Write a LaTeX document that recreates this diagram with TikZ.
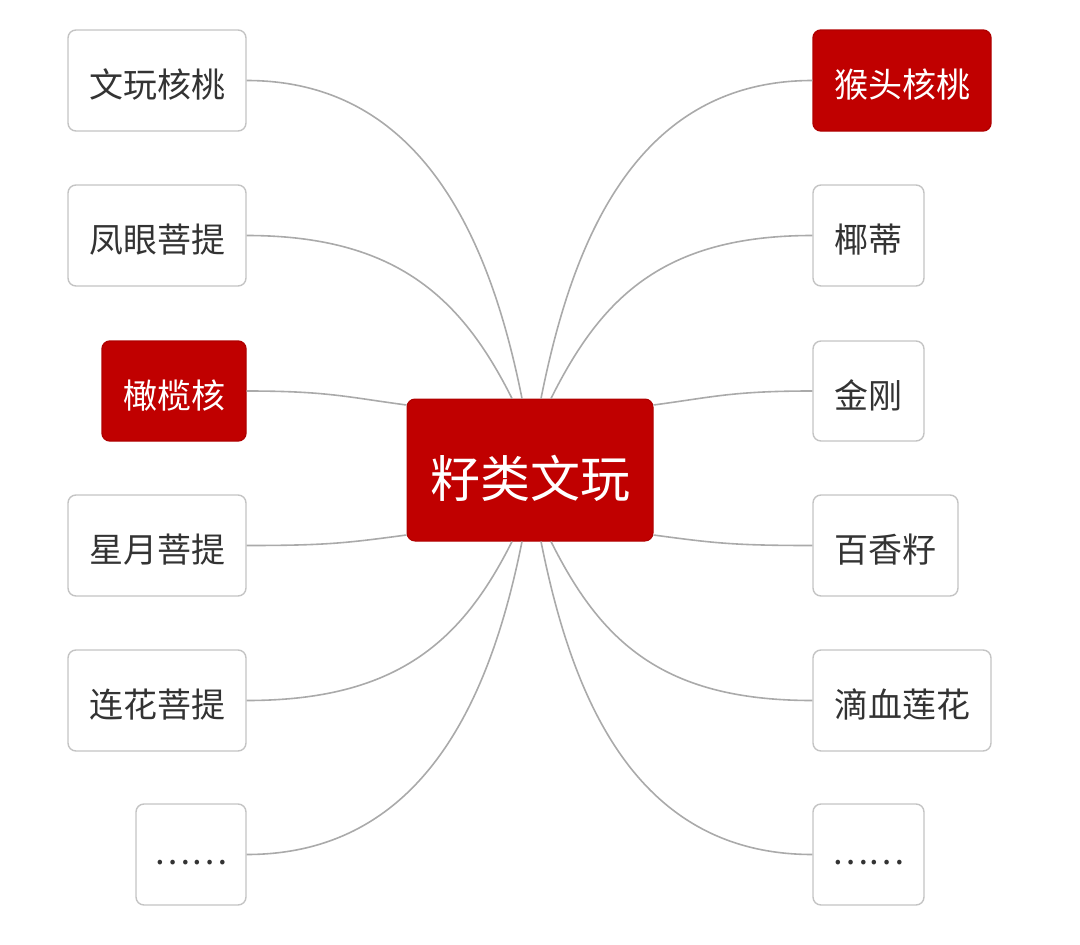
\documentclass[tikz,border=0pt]{standalone}
\usepackage{fontspec}
\newfontfamily\cjk{Noto Sans CJK SC}
\usetikzlibrary{calc}
\definecolor{hred}{HTML}{C00000}
\definecolor{hredline}{HTML}{B00000}
\definecolor{leafline}{HTML}{C4C4C4}
\definecolor{leaftext}{HTML}{333333}
\definecolor{linkgray}{HTML}{AAAAAA}
\begin{document}
\begin{tikzpicture}[x=1pt,y=-1pt,
  leaf/.style={draw=leafline, line width=1.4pt, rounded corners=8pt, fill=white,
    text=leaftext, inner sep=0pt, minimum height=101pt,
    text height=34pt, text depth=0pt,
    font=\cjk\fontsize{34}{34}\selectfont},
  dotsleaf/.style={leaf, text height=20pt},
  hleaf/.style={leaf, draw=hredline, fill=hred, text=white},
  centre/.style={draw=hredline, line width=1pt, rounded corners=8pt, fill=hred, text=white,
    inner sep=0pt, minimum width=246pt, minimum height=142pt,
    text height=54pt, text depth=0pt,
    font=\cjk\fontsize{50}{50}\selectfont},
  link/.style={draw=linkgray, line width=1.6pt}]
\useasboundingbox (0,0) rectangle (1080,945);

% centre
\node[centre] (c) at (530,470) {籽类文玩};

% left column
\node[leaf, minimum width=178pt] (l1) at (157,80.5) {文玩核桃};
\node[leaf, minimum width=178pt] (l2) at (157,235.5) {凤眼菩提};
\node[hleaf, minimum width=144pt, minimum height=100pt] (l3) at (174,391) {橄榄核};
\node[leaf, minimum width=178pt] (l4) at (157,545.5) {星月菩提};
\node[leaf, minimum width=178pt] (l5) at (157,700.5) {连花菩提};
\node[dotsleaf, minimum width=110pt] (l6) at (191,854.5) {……};

% right column
\node[hleaf, minimum width=178pt] (r1) at (902,80.5) {猴头核桃};
\node[leaf, minimum width=111pt] (r2) at (868.5,235.5) {椰蒂};
\node[leaf, minimum width=111pt, minimum height=100pt] (r3) at (868.5,391) {金刚};
\node[leaf, minimum width=145pt] (r4) at (885.5,545.5) {百香籽};
\node[leaf, minimum width=178pt] (r5) at (902,700.5) {滴血莲花};
\node[dotsleaf, minimum width=111pt] (r6) at (868.5,854.5) {……};

% attachment points on the centre box
\coordinate (tl1) at ($(c.north)+(-8,0)$);
\coordinate (tl2) at ($(c.north)+(-18,0)$);
\coordinate (tr1) at ($(c.north)+(11,0)$);
\coordinate (tr2) at ($(c.north)+(21,0)$);
\coordinate (bl1) at ($(c.south)+(-8,0)$);
\coordinate (bl2) at ($(c.south)+(-18,0)$);
\coordinate (br1) at ($(c.south)+(11,0)$);
\coordinate (br2) at ($(c.south)+(21,0)$);
\coordinate (wl1) at ($(c.west)+(0,-65)$);
\coordinate (wl2) at ($(c.west)+(0,65)$);
\coordinate (er1) at ($(c.east)+(0,-65)$);
\coordinate (er2) at ($(c.east)+(0,65)$);

% connectors, left
\path[link] (l1.east) .. controls +(180,0) and +(-30,-150) .. (tl1);
\path[link] (l2.east) .. controls +(150,0) and +(-50,-100) .. (tl2);
\path[link] (l3.east) .. controls +(80,0) and +(-60,-8) .. (wl1);
\path[link] (l4.east) .. controls +(80,0) and +(-60,8) .. (wl2);
\path[link] (l5.east) .. controls +(150,0) and +(-50,100) .. (bl2);
\path[link] (l6.east) .. controls +(180,0) and +(-30,150) .. (bl1);

% connectors, right
\path[link] (r1.west) .. controls +(-180,0) and +(30,-150) .. (tr1);
\path[link] (r2.west) .. controls +(-150,0) and +(50,-100) .. (tr2);
\path[link] (r3.west) .. controls +(-80,0) and +(60,-8) .. (er1);
\path[link] (r4.west) .. controls +(-80,0) and +(60,8) .. (er2);
\path[link] (r5.west) .. controls +(-150,0) and +(50,100) .. (br2);
\path[link] (r6.west) .. controls +(-180,0) and +(30,150) .. (br1);
\end{tikzpicture}
\end{document}
